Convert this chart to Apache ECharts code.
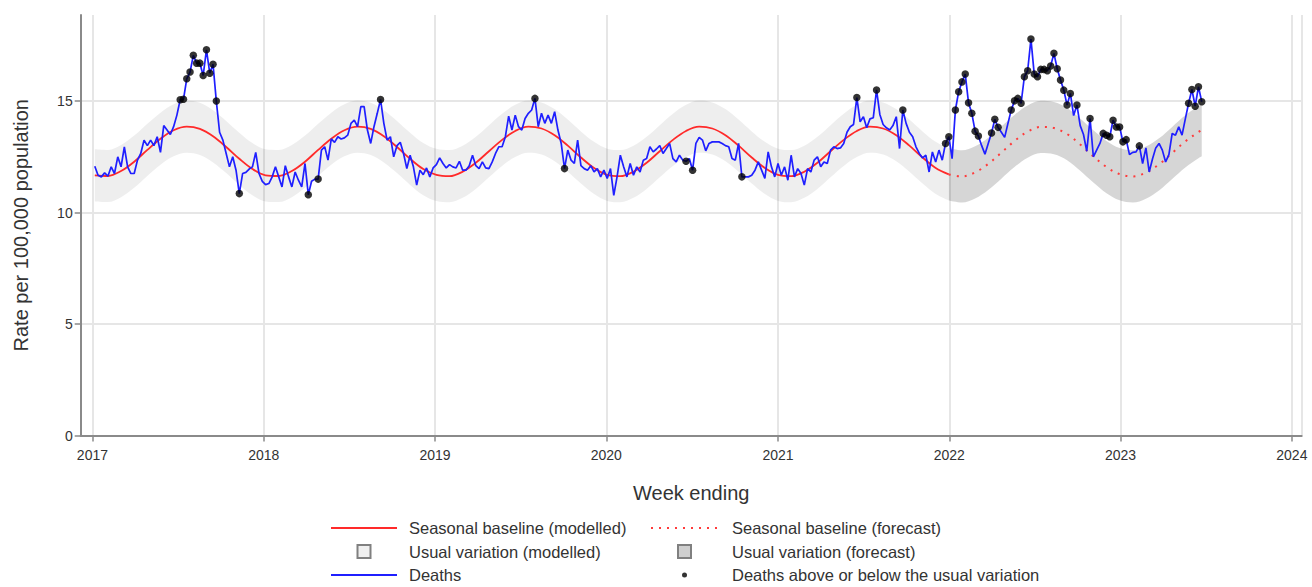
<!DOCTYPE html>
<html>
<head>
<meta charset="utf-8">
<script src="https://cdn.jsdelivr.net/npm/echarts@6/dist/echarts.min.js"></script>
<style>
  html, body { margin: 0; padding: 0; background: #ffffff; }
  #chart { width: 1312px; height: 587px; }
</style>
</head>
<body>
<div id="chart"></div>
<script>
// Weekly death rates per 100,000 population, weeks ending Fridays from 6 Jan 2017
const deaths2017 = [12.08, 11.67, 11.6, 11.78, 11.63, 12.05, 11.75, 12.5, 12.05, 12.94, 12.05, 11.75, 11.75,
  12.35, 12.65, 13.25, 13.0, 13.25, 13.0, 13.4, 12.7, 13.9, 13.7, 13.5, 13.85, 14.37,
  15.06, 15.08, 16.0, 16.3, 17.05, 16.7, 16.7, 16.15, 17.3, 16.25, 16.65, 15.0, 13.6,
  13.25, 12.65, 12.05, 12.5, 11.9, 10.85, 11.75, 11.8, 11.95, 12.05, 12.7, 11.75, 11.4];
const deaths2018 = [11.25, 11.3, 11.6, 12.05, 11.6, 11.15, 12.1, 11.6, 11.15, 11.82, 11.45, 11.15, 12.2,
  10.8, 11.4, 11.5, 11.5, 12.8, 12.95, 12.35, 13.3, 13.15, 13.4, 13.3, 13.35, 13.47,
  14.0, 14.15, 13.85, 14.75, 14.75, 13.7, 13.1, 13.85, 14.45, 15.07, 14.0, 13.25, 13.4,
  12.5, 13.0, 13.15, 12.65, 11.97, 12.57, 12.05, 11.23, 11.9, 11.7, 12.0, 11.6, 12.0];
const deaths2019 = [12.15, 12.45, 12.2, 12.0, 12.15, 12.05, 12.0, 12.3, 11.9, 11.9, 12.1, 12.57, 12.1,
  11.97, 12.27, 12.0, 11.97, 12.27, 12.65, 12.95, 12.95, 13.4, 14.32, 13.7, 14.37, 13.85,
  13.7, 14.22, 14.45, 14.6, 15.12, 13.85, 14.45, 14.0, 14.37, 14.0, 14.52, 13.7, 13.1,
  11.97, 12.8, 12.35, 12.2, 13.25, 12.1, 11.97, 11.9, 12.1, 11.82, 11.97, 11.6, 11.9];
const deaths2020 = [11.53, 11.97, 10.77, 11.6, 12.57, 12.05, 11.6, 12.2, 11.67, 12.05, 11.82, 12.35, 12.42,
  12.95, 12.72, 12.85, 13.0, 12.65, 12.87, 13.1, 12.42, 12.27, 12.57, 12.35, 12.3, 12.42,
  11.9, 13.1, 13.37, 13.25, 12.77, 13.1, 13.17, 13.17, 13.17, 13.1, 13.0, 12.95, 12.42,
  12.35, 13.1, 11.6, 11.6, 11.6, 11.67, 11.9, 12.27, 11.9, 11.53, 12.72, 12.05, 11.6];
const deaths2021 = [12.2, 11.67, 12.05, 11.45, 12.57, 11.6, 11.97, 11.75, 11.23, 11.97, 11.82, 12.35, 12.5,
  12.05, 12.27, 12.2, 12.8, 12.95, 12.87, 12.9, 13.1, 13.6, 13.85, 13.95, 15.16, 14.07,
  14.3, 13.8, 14.2, 14.25, 15.5, 14.4, 13.95, 13.8, 13.7, 13.9, 14.3, 12.87, 14.6,
  14.0, 13.6, 13.4, 12.95, 12.65, 12.45, 12.57, 11.82, 12.72, 12.27, 12.8, 12.35, 13.1];
const deaths2022 = [13.4, 12.42, 14.6, 15.42, 15.86, 16.21, 14.92, 14.45, 13.65, 13.43, 13.0, 12.62, 13.1,
  13.57, 14.18, 13.82, 13.6, 13.37, 14.0, 14.6, 15.01, 15.12, 14.9, 16.09, 16.36, 17.78,
  16.21, 16.09, 16.42, 16.42, 16.36, 16.57, 17.14, 16.45, 15.94, 15.49, 14.82, 15.34, 14.35,
  14.82, 13.9, 13.5, 12.75, 14.22, 12.5, 12.8, 13.1, 13.55, 13.47, 13.4, 14.14, 13.84];
const deaths2023 = [13.84, 13.17, 13.27, 12.6, 12.7, 12.72, 12.99, 12.2, 12.9, 11.82, 12.4, 12.9, 13.1,
  12.8, 12.27, 12.6, 13.55, 13.47, 13.84, 13.47, 14.2, 14.9, 15.52, 14.77, 15.64, 14.97];

// Week numbers (counted from the first week) where deaths fall outside the usual variation
const outsideWeeks = [26, 27, 28, 29, 30, 31, 32, 33, 34, 35, 36, 37, 44, 65, 68, 87, 134, 143,
  180, 182, 197, 232, 238, 246, 259, 260,
  262, 263, 264, 265, 266, 267, 268, 269, 273, 274, 275,
  279, 280, 281, 282, 283, 284, 285, 286, 287, 288, 289, 290, 291, 292, 293, 294, 295, 296, 297,
  299, 303, 307, 308, 309, 310, 311, 312, 313, 314, 318, 333, 334, 335, 336, 337];

// Seasonal baseline and usual-variation band, every 4th week (last entry = final week)
const baseline = [
  11.67, 11.64, 11.86, 12.28, 12.81, 13.31, 13.69, 13.85, 13.75, 13.42, 12.94, 12.41, 11.95,
  11.67, 11.64, 11.86, 12.28, 12.81, 13.31, 13.69, 13.85, 13.75, 13.42, 12.94, 12.41, 11.95,
  11.69, 11.63, 11.83, 12.23, 12.75, 13.26, 13.66, 13.85, 13.77, 13.47, 13.00, 12.47, 12.00,
  11.69, 11.63, 11.83, 12.23, 12.75, 13.26, 13.66, 13.85, 13.77, 13.47, 13.00, 12.47, 12.00,
  11.69, 11.63, 11.83, 12.23, 12.75, 13.26, 13.66, 13.85, 13.77, 13.47, 13.00, 12.47, 12.00,
  11.71, 11.62, 11.80, 12.18, 12.69, 13.21, 13.63, 13.84, 13.79, 13.52, 13.05, 12.52, 12.04,
  11.72, 11.62, 11.79, 12.16, 12.67, 13.19, 13.61, 13.70];
const bandLower = [
  10.50, 10.47, 10.69, 11.11, 11.64, 12.14, 12.52, 12.68, 12.58, 12.25, 11.77, 11.24, 10.78,
  10.50, 10.47, 10.69, 11.11, 11.64, 12.14, 12.52, 12.68, 12.58, 12.25, 11.77, 11.24, 10.78,
  10.52, 10.46, 10.66, 11.06, 11.58, 12.09, 12.49, 12.68, 12.60, 12.30, 11.83, 11.30, 10.83,
  10.52, 10.46, 10.66, 11.06, 11.58, 12.09, 12.49, 12.68, 12.60, 12.30, 11.83, 11.30, 10.83,
  10.52, 10.46, 10.66, 11.06, 11.58, 12.09, 12.49, 12.68, 12.60, 12.30, 11.83, 11.30, 10.83,
  10.54, 10.45, 10.63, 11.01, 11.52, 12.04, 12.46, 12.67, 12.62, 12.35, 11.88, 11.35, 10.87,
  10.55, 10.45, 10.62, 10.99, 11.50, 12.02, 12.44, 12.53];
const bandUpper = [
  12.84, 12.81, 13.03, 13.45, 13.98, 14.48, 14.86, 15.02, 14.92, 14.59, 14.11, 13.58, 13.12,
  12.84, 12.81, 13.03, 13.45, 13.98, 14.48, 14.86, 15.02, 14.92, 14.59, 14.11, 13.58, 13.12,
  12.86, 12.80, 13.00, 13.40, 13.92, 14.43, 14.83, 15.02, 14.94, 14.64, 14.17, 13.64, 13.17,
  12.86, 12.80, 13.00, 13.40, 13.92, 14.43, 14.83, 15.02, 14.94, 14.64, 14.17, 13.64, 13.17,
  12.86, 12.80, 13.00, 13.40, 13.92, 14.43, 14.83, 15.02, 14.94, 14.64, 14.17, 13.64, 13.17,
  12.88, 12.79, 12.97, 13.35, 13.86, 14.38, 14.80, 15.01, 14.96, 14.69, 14.22, 13.69, 13.21,
  12.89, 12.79, 12.96, 13.33, 13.84, 14.36, 14.78, 14.87];

const yTicks = [0, 5, 10, 15];
const forecastFrom = 65; // baseline entry for the last week of 2021; forecast starts here

// ---- build series data ----
const DAY = 864e5;
const firstWeek = Date.UTC(2017, 0, 6);
const weekTime = i => firstWeek + i * 7 * DAY;

const deaths = [].concat(deaths2017, deaths2018, deaths2019, deaths2020, deaths2021, deaths2022, deaths2023);
const deathsData = deaths.map((v, i) => [weekTime(i), v]);
const outsideData = outsideWeeks.map(i => [weekTime(i), deaths[i]]);

const baseWeeks = baseline.map((_, k) => (k === baseline.length - 1 ? deaths.length - 1 : k * 4));
const pts = arr => arr.map((v, k) => [weekTime(baseWeeks[k]), v]);
const baseAll = pts(baseline);
const lowAll = pts(bandLower);
const widthAll = bandUpper.map((v, k) => [weekTime(baseWeeks[k]), +(v - bandLower[k]).toFixed(2)]);

const modelled = arr => arr.slice(0, forecastFrom + 1);
const forecast = arr => arr.slice(forecastFrom);

const FONT = '"Liberation Sans", Arial, sans-serif';
const squareIcon = 'path://M0,0M14,14M0.5,0.5L13.5,0.5L13.5,13.5L0.5,13.5Z';
const dotIcon = 'path://M0,0M14,14M4.5,7a2.5,2.5 0 1,0 5,0a2.5,2.5 0 1,0 -5,0z';
const noMarker = { opacity: 0 };

const legendCommon = {
  orient: 'vertical',
  top: 519.5,
  height: 80,
  padding: 0,
  itemWidth: 66,
  itemHeight: 14,
  itemGap: 6.5,
  selectedMode: false,
  textStyle: { fontFamily: FONT, fontSize: 16.5, lineHeight: 16, color: '#333333', padding: [0, 0, 0, 7] },
};

const chart = echarts.init(document.getElementById('chart'), null, { renderer: 'svg' });
chart.setOption({
  animation: false,
  useUTC: true,
  backgroundColor: '#ffffff',
  textStyle: { fontFamily: FONT },
  grid: { left: 80.7, right: 10.3, top: 15, bottom: 151.5 },
  legend: [
    Object.assign({}, legendCommon, {
      left: 330,
      data: [
        { name: 'Seasonal baseline (modelled)', itemStyle: noMarker },
        { name: 'Usual variation (modelled)', icon: squareIcon,
          itemStyle: { color: '#efefef', borderColor: '#808080', borderWidth: 2 } },
        { name: 'Deaths', itemStyle: noMarker },
      ],
    }),
    Object.assign({}, legendCommon, {
      left: 650,
      itemWidth: 67,
      textStyle: Object.assign({}, legendCommon.textStyle, { padding: [0, 0, 0, 9] }),
      data: [
        { name: 'Seasonal baseline (forecast)', itemStyle: noMarker },
        { name: 'Usual variation (forecast)', icon: squareIcon,
          itemStyle: { color: '#cfcfcf', borderColor: '#808080', borderWidth: 2 } },
        { name: 'Deaths above or below the usual variation', icon: dotIcon,
          itemStyle: { color: '#000000' } },
      ],
    }),
  ],
  xAxis: {
    type: 'time',
    min: Date.UTC(2016, 11, 7),
    max: Date.UTC(2024, 0, 22),
    splitNumber: 7,
    minInterval: 365 * DAY,
    maxInterval: 366 * DAY,
    offset: 3,
    name: 'Week ending',
    nameLocation: 'middle',
    nameGap: 44,
    nameTextStyle: { fontFamily: FONT, fontSize: 20, color: '#333333' },
    axisLine: { show: true, lineStyle: { color: '#8a8a8a', width: 2 } },
    axisTick: { show: true, length: 6, lineStyle: { color: '#8a8a8a', width: 1.5 } },
    axisLabel: { formatter: '{yyyy}', fontFamily: FONT, fontSize: 14, color: '#333333', margin: 9,
      showMinLabel: false, showMaxLabel: false },
    splitLine: { show: true, lineStyle: { color: '#e6e6e6', width: 2 } },
  },
  yAxis: {
    type: 'value',
    min: 0,
    max: 18.86,
    interval: 5,
    name: 'Rate per 100,000 population',
    nameLocation: 'middle',
    nameGap: 50,
    nameTextStyle: { fontFamily: FONT, fontSize: 20, color: '#333333' },
    axisLine: { show: true, lineStyle: { color: '#8a8a8a', width: 2 } },
    axisTick: { show: true, length: 6, customValues: yTicks, lineStyle: { color: '#8a8a8a', width: 1.5 } },
    axisLabel: { fontFamily: FONT, fontSize: 14, color: '#333333', margin: 8, customValues: yTicks },
    splitLine: { show: true, lineStyle: { color: '#e6e6e6', width: 2 } },
  },
  series: [
    {
      name: 'band-low-modelled', type: 'line', stack: 'modelled', data: modelled(lowAll),
      smooth: 0.35, symbol: 'none', lineStyle: { opacity: 0 }, silent: true, z: 1,
    },
    {
      name: 'Usual variation (modelled)', type: 'line', stack: 'modelled', data: modelled(widthAll),
      smooth: 0.35, symbol: 'none', lineStyle: { opacity: 0 }, itemStyle: { color: '#efefef' },
      areaStyle: { color: 'rgba(0,0,0,0.065)', opacity: 1 }, silent: true, z: 1,
    },
    {
      name: 'band-low-forecast', type: 'line', stack: 'forecast', data: forecast(lowAll),
      smooth: 0.35, symbol: 'none', lineStyle: { opacity: 0 }, silent: true, z: 1,
    },
    {
      name: 'Usual variation (forecast)', type: 'line', stack: 'forecast', data: forecast(widthAll),
      smooth: 0.35, symbol: 'none', lineStyle: { opacity: 0 }, itemStyle: { color: '#cfcfcf' },
      areaStyle: { color: 'rgba(0,0,0,0.16)', opacity: 1 }, silent: true, z: 1,
    },
    {
      name: 'Seasonal baseline (modelled)', type: 'line', data: modelled(baseAll),
      smooth: 0.35, symbol: 'none', itemStyle: { color: '#ff1f1f' },
      lineStyle: { color: '#ff2a2a', width: 1.8 }, z: 3,
    },
    {
      name: 'Seasonal baseline (forecast)', type: 'line', data: forecast(baseAll),
      smooth: 0.35, symbol: 'none', itemStyle: { color: '#ff3b3b' },
      lineStyle: { color: '#ff3b3b', width: 2, type: [2, 6] }, z: 3,
    },
    {
      name: 'Deaths', type: 'line', data: deathsData, symbol: 'none',
      itemStyle: { color: '#1f1fff' }, lineStyle: { color: '#1f1fff', width: 1.7 }, z: 4,
    },
    {
      name: 'Deaths above or below the usual variation', type: 'scatter', data: outsideData,
      symbol: 'circle', symbolSize: 7.5, itemStyle: { color: '#000000' }, z: 5,
    },
  ],
});
</script>
</body>
</html>
